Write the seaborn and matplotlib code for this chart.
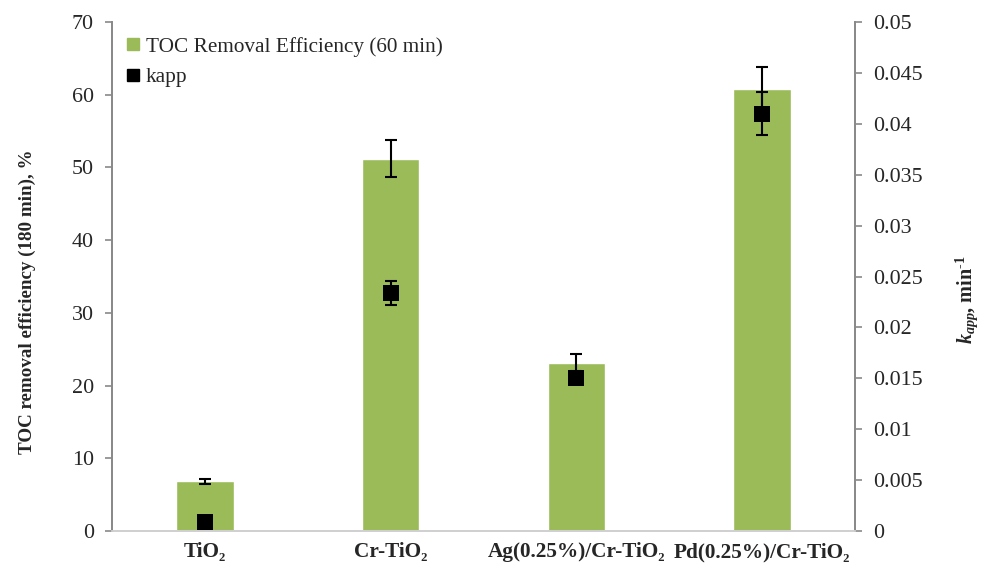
import numpy as np
import pandas as pd
import matplotlib
matplotlib.use("Agg")
import matplotlib.pyplot as plt
import seaborn as sns
from matplotlib.lines import Line2D

categories = ["TiO₂", "Cr-TiO₂", "Ag(0.25%)/Cr-TiO₂", "Pd(0.25%)/Cr-TiO₂"]
toc_values = [6.85, 51.2, 23.15, 60.75]
toc_errors = [0.35, 2.55, 1.15, 3.1]
kapp_values = [0.0009, 0.0234, 0.0150, 0.0410]
kapp_errors = [0.0002, 0.0012, 0.0006, 0.0021]

left_ticks = list(range(0, 71, 10))
right_ticks = [0, 0.005, 0.01, 0.015, 0.02, 0.025, 0.03, 0.035, 0.04, 0.045, 0.05]
right_tick_labels = ["0", "0.005", "0.01", "0.015", "0.02", "0.025", "0.03", "0.035", "0.04", "0.045", "0.05"]

sns.set_style("white")
plt.rcParams["font.family"] = ["Liberation Serif", "DejaVu Serif"]
plt.rcParams["mathtext.fontset"] = "custom"
plt.rcParams["mathtext.rm"] = "Liberation Serif:bold"
plt.rcParams["mathtext.it"] = "Liberation Serif:italic:bold"
plt.rcParams["mathtext.bf"] = "Liberation Serif:bold"

df = pd.DataFrame({"cat": categories, "toc": toc_values, "kapp": kapp_values})

fig = plt.figure(figsize=(9.83, 5.66), dpi=100)
ax = fig.add_axes([0.1139, 0.0618, 0.8698 - 0.1139, 0.9611 - 0.0618])

bar_color = "#9BBB59"
sns.barplot(data=df, x="cat", y="toc", color=bar_color, width=0.31,
            saturation=1, ax=ax, errorbar=None)
xpos = np.arange(len(categories))
ax.errorbar(xpos, toc_values, yerr=toc_errors, fmt="none", ecolor="black",
            elinewidth=1.5, capsize=4.5, capthick=1.5, zorder=5)

ax.set_ylim(0, 70)
ax.set_xlim(-0.5, len(categories) - 0.5)
ax.set_yticks(left_ticks)
ax.set_xlabel("")
ax.set_ylabel("TOC removal efficiency (180 min), %", fontsize=13.7,
              fontweight="bold", labelpad=26, y=0.45)

ax2 = ax.twinx()
sns.scatterplot(data=df, x=xpos, y="kapp", marker="s", s=125, color="black",
                edgecolor="black", linewidth=0, ax=ax2, zorder=6, legend=False)
ax2.errorbar(xpos, kapp_values, yerr=kapp_errors, fmt="none", ecolor="black",
             elinewidth=1.5, capsize=4.5, capthick=1.5, zorder=5)
ax2.set_ylim(0, 0.05)
ax2.set_yticks(right_ticks)
ax2.set_yticklabels(right_tick_labels)
ax2.set_ylabel(r"$k_{app}$, min$^{\text{-}1}$", fontsize=14.5, fontweight="bold",
               labelpad=22, y=0.455)

grey = "#898989"
for a in (ax, ax2):
    a.spines["top"].set_visible(False)
    a.spines["left"].set_color(grey)
    a.spines["right"].set_color(grey)
    a.spines["left"].set_linewidth(1.3)
    a.spines["right"].set_linewidth(1.3)
    a.spines["bottom"].set_color("#D0D0D0")
    a.spines["bottom"].set_linewidth(1.3)
    a.grid(False)

ax.tick_params(axis="y", which="major", direction="out", length=5, width=1.2,
               color=grey, labelsize=15.8, pad=8, left=True)
ax2.tick_params(axis="y", which="major", direction="out", length=5, width=1.2,
                color=grey, labelsize=15.8, pad=8, right=True)
ax.tick_params(axis="x", length=0, pad=8)
ax.set_xticks(xpos)
ax.set_xticklabels(categories, fontsize=15.3, fontweight="bold")
ax2.tick_params(axis="x", length=0)

handles = [
    Line2D([0], [0], marker="s", linestyle="none", markersize=8,
           markerfacecolor=bar_color, markeredgecolor=bar_color),
    Line2D([0], [0], marker="s", linestyle="none", markersize=8,
           markerfacecolor="black", markeredgecolor="black"),
]
ax2.legend(handles, ["TOC Removal Efficiency (60 min)", "kapp"], loc="upper left",
           bbox_to_anchor=(0.0, 1.0), frameon=False, fontsize=15.3,
           handlelength=0.6, handletextpad=0.3, labelspacing=0.5,
           borderaxespad=0.3)

fig.savefig("out.png", dpi=100)
